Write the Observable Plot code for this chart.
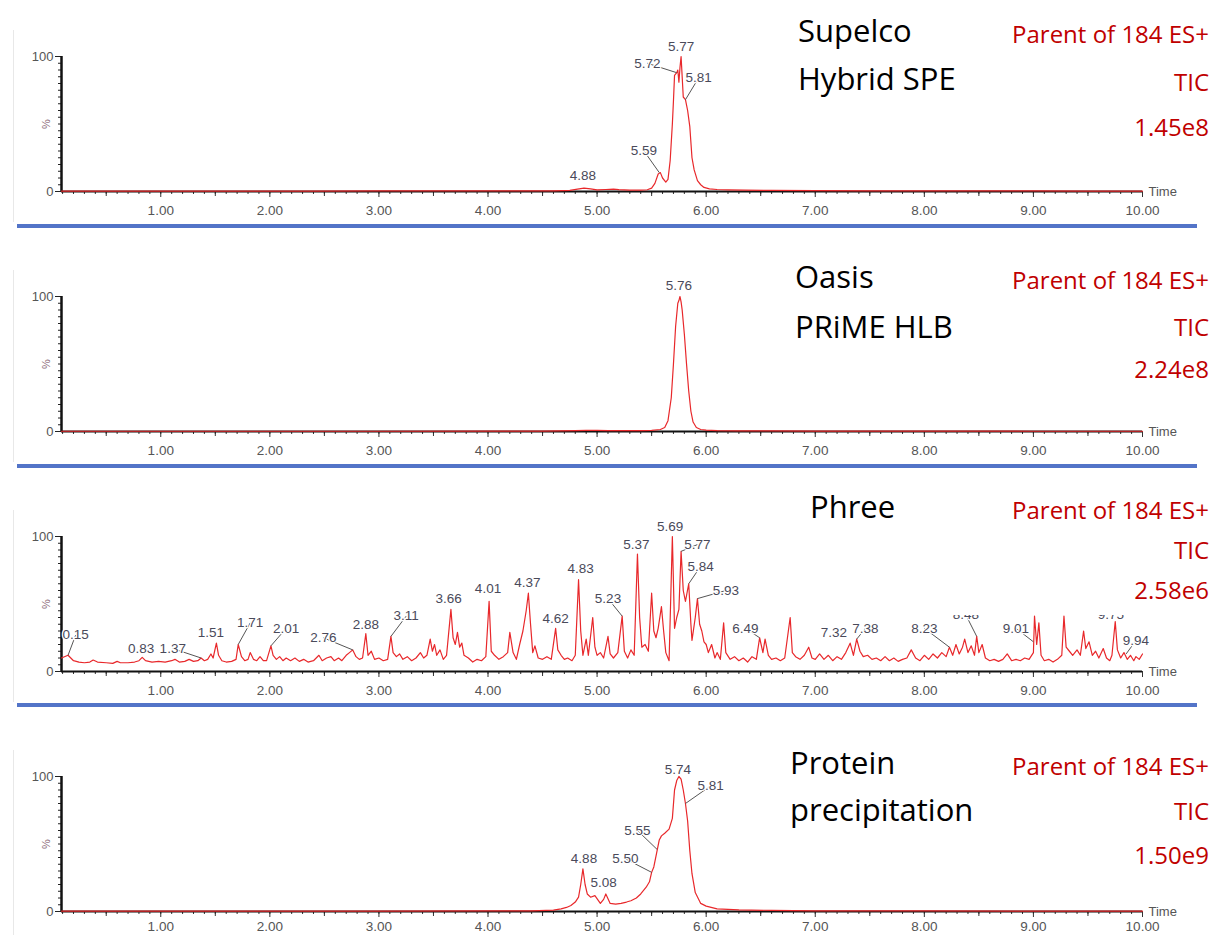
<!DOCTYPE html>
<html><head><meta charset="utf-8">
<script src="https://cdn.jsdelivr.net/npm/d3@7"></script>
<script src="https://cdn.jsdelivr.net/npm/@observablehq/plot@0.6"></script>
<style>
body{margin:0;background:#fff;overflow:hidden;}
#page{position:relative;width:1213px;height:935px;overflow:hidden;background:#fff;}
.cover{position:absolute;background:#fff;}
.name{position:absolute;font-family:"Open Sans";font-size:31px;color:#000;line-height:31px;white-space:nowrap;}
.info{position:absolute;right:4px;font-family:"Open Sans";font-size:24px;color:#c00000;line-height:24px;text-align:right;white-space:nowrap;}
.sep{position:absolute;left:17px;width:1180px;height:4px;background:#5374c8;}
.edge{position:absolute;left:13px;width:1px;background:#e8e8e8;}
</style></head><body><div id="page"></div>
<script>
// ---------- data ----------
const panelNames = [["Supelco", "Hybrid SPE"], ["Oasis", "PRiME HLB"], ["Phree"], ["Protein", "precipitation"]];
const detectorLabel = "Parent of 184 ES+";
const scanLabel = "TIC";
const intensities = ["1.45e8", "2.24e8", "2.58e6", "1.50e9"];
const xTicks = [1, 2, 3, 4, 5, 6, 7, 8, 9, 10];
const xHalfTicks = [0.5, 1.5, 2.5, 3.5, 4.5, 5.5, 6.5, 7.5, 8.5, 9.5];
const xMinorTicks = d3.range(1, 101).map(i => i / 10);
const yTicks = [0, 100];
const yMinorTicks = d3.range(0, 21).map(i => i * 5);

// [time (min), relative intensity %]
const supelcoTrace = [[0.09,0.3],[0.6,0.3],[1.2,0.3],[1.8,0.3],[2.4,0.3],[3.0,0.4],[3.6,0.4],[4.2,0.4],[4.6,0.5],[4.75,0.8],[4.82,1.8],[4.88,2.5],[4.94,2.0],[5.0,1.2],[5.08,1.5],[5.15,1.7],[5.2,1.4],[5.3,1.0],[5.4,1.0],[5.46,1.3],[5.5,2.5],[5.53,6],[5.56,13],[5.58,14],[5.6,10],[5.63,7],[5.65,9],[5.67,23],[5.69,50],[5.70,67],[5.71,86],[5.73,88],[5.74,90],[5.75,81],[5.76,92],[5.77,100],[5.78,85],[5.79,70],[5.81,68],[5.83,60],[5.85,48],[5.87,25],[5.89,16],[5.92,8],[5.95,5],[5.98,3],[6.03,2],[6.1,1.5],[6.2,1.2],[6.35,1],[6.6,0.8],[7.0,0.6],[7.5,0.5],[8.0,0.5],[8.5,0.4],[9.0,0.4],[9.5,0.3],[10.0,0.3]];
const oasisTrace = [[0.09,0.2],[1,0.2],[2,0.2],[3,0.2],[4,0.3],[4.5,0.3],[4.8,0.6],[4.9,0.8],[5.0,0.8],[5.1,0.6],[5.2,0.7],[5.3,0.6],[5.4,0.6],[5.5,0.8],[5.58,1.5],[5.62,3],[5.65,8],[5.68,25],[5.70,50],[5.72,78],[5.74,95],[5.75,97],[5.76,100],[5.77,96],[5.78,90],[5.80,72],[5.82,50],[5.84,30],[5.86,15],[5.88,7],[5.91,3],[5.95,1.5],[6.0,1],[6.1,0.7],[6.3,0.5],[6.6,0.4],[7,0.3],[8,0.3],[9,0.2],[10,0.2]];
const phreeTrace = [[0.09,10],[0.15,12],[0.2,8],[0.25,7],[0.3,6.5],[0.35,7],[0.38,8.5],[0.42,7],[0.5,6.5],[0.56,6],[0.6,7.5],[0.63,6.5],[0.7,6.5],[0.76,7],[0.8,8],[0.83,10.5],[0.86,8],[0.92,7],[0.98,7.5],[1.04,7],[1.1,8],[1.13,9],[1.17,7],[1.22,7.5],[1.26,9],[1.3,7.5],[1.34,8],[1.37,10],[1.4,8],[1.43,9],[1.46,13],[1.48,10],[1.51,21],[1.53,12],[1.56,8],[1.6,7],[1.65,7.5],[1.69,9],[1.71,20],[1.74,11],[1.77,8],[1.8,9],[1.82,14],[1.85,9],[1.88,8],[1.91,11],[1.94,8],[1.97,8],[2.01,19],[2.03,12],[2.06,9],[2.09,11],[2.12,8],[2.15,10],[2.19,8],[2.23,10],[2.27,7.5],[2.31,9],[2.35,7],[2.4,8],[2.45,12],[2.48,8],[2.52,10],[2.56,11],[2.59,8],[2.63,10],[2.66,8],[2.7,12],[2.73,14],[2.76,16],[2.79,11],[2.82,9],[2.85,10],[2.88,28],[2.9,12],[2.93,15],[2.96,9],[3.0,10],[3.04,8],[3.08,9],[3.11,26],[3.13,14],[3.16,11],[3.19,13],[3.22,9],[3.26,11],[3.3,8],[3.34,10],[3.38,14],[3.41,10],[3.44,12],[3.47,24],[3.49,15],[3.51,20],[3.53,12],[3.56,16],[3.59,9],[3.62,12],[3.66,46],[3.68,25],[3.7,20],[3.72,29],[3.74,18],[3.76,21],[3.78,12],[3.82,10],[3.86,7],[3.9,9],[3.94,8],[3.98,11],[4.01,52],[4.03,15],[4.06,12],[4.1,9],[4.14,11],[4.18,14],[4.2,29],[4.23,14],[4.26,9],[4.29,20],[4.32,30],[4.35,45],[4.37,58],[4.39,35],[4.41,14],[4.43,19],[4.46,10],[4.5,9],[4.54,11],[4.58,9],[4.62,32],[4.64,16],[4.67,12],[4.7,9],[4.73,10],[4.77,8],[4.8,12],[4.83,68],[4.85,30],[4.87,12],[4.9,24],[4.92,12],[4.96,40],[4.98,18],[5.0,12],[5.03,14],[5.06,10],[5.1,26],[5.12,13],[5.15,10],[5.19,14],[5.23,41],[5.25,15],[5.28,10],[5.31,16],[5.34,12],[5.37,87],[5.39,40],[5.41,18],[5.44,20],[5.47,15],[5.5,58],[5.52,30],[5.54,25],[5.56,32],[5.59,48],[5.61,30],[5.63,14],[5.66,8],[5.69,100],[5.71,32],[5.73,40],[5.75,46],[5.77,89],[5.79,60],[5.81,52],[5.84,65],[5.86,35],[5.87,23],[5.9,40],[5.92,54],[5.94,35],[5.96,30],[5.98,22],[6.0,20],[6.02,14],[6.05,20],[6.08,10],[6.1,14],[6.13,9],[6.16,36],[6.18,14],[6.22,9],[6.26,11],[6.3,8],[6.34,10],[6.38,7],[6.42,11],[6.46,9],[6.49,25],[6.52,14],[6.54,24],[6.57,12],[6.6,9],[6.64,10],[6.68,8],[6.72,10],[6.77,40],[6.79,14],[6.82,11],[6.86,9],[6.9,12],[6.94,18],[6.97,10],[7.0,9],[7.04,13],[7.08,9],[7.12,12],[7.16,8],[7.2,11],[7.24,9],[7.28,14],[7.32,21],[7.35,12],[7.38,24],[7.41,15],[7.44,11],[7.48,12],[7.52,9],[7.56,10],[7.6,8],[7.64,11],[7.68,8],[7.72,10],[7.76,7.5],[7.8,9],[7.84,10],[7.88,16],[7.92,10],[7.96,8],[8.0,12],[8.04,9],[8.08,13],[8.12,10],[8.16,14],[8.2,11],[8.23,18],[8.26,12],[8.29,20],[8.32,13],[8.35,18],[8.37,24],[8.4,14],[8.43,19],[8.46,12],[8.48,26],[8.5,14],[8.53,20],[8.56,10],[8.6,8],[8.64,9],[8.68,7.5],[8.72,9],[8.76,13],[8.8,8],[8.84,9],[8.88,8],[8.92,10],[8.96,9],[9.0,14],[9.01,41],[9.03,20],[9.05,36],[9.07,12],[9.1,8],[9.14,9],[9.18,7],[9.22,9],[9.26,12],[9.28,41],[9.3,18],[9.33,15],[9.36,12],[9.4,16],[9.43,12],[9.46,30],[9.48,17],[9.51,22],[9.54,12],[9.57,15],[9.6,10],[9.64,17],[9.67,10],[9.7,8],[9.72,12],[9.75,37],[9.77,16],[9.8,10],[9.83,14],[9.86,9],[9.89,12],[9.92,8],[9.94,11],[9.97,9],[10.0,13]];
const proteinTrace = [[0.09,0.3],[1,0.3],[2,0.3],[3,0.3],[4,0.4],[4.4,0.5],[4.6,1.0],[4.67,2],[4.72,3],[4.76,4.4],[4.8,7],[4.83,10.6],[4.85,20],[4.87,31.6],[4.89,20],[4.91,13],[4.94,10.6],[4.98,11.8],[5.03,6],[5.06,9],[5.08,13],[5.12,6],[5.17,5.5],[5.22,6],[5.27,7],[5.31,8],[5.36,10],[5.40,13],[5.45,18],[5.48,22],[5.50,29],[5.52,33],[5.54,41],[5.57,53],[5.59,56],[5.62,58],[5.66,61],[5.69,69],[5.71,90],[5.73,97],[5.75,100],[5.77,98],[5.79,90],[5.80,85],[5.81,80],[5.83,67],[5.85,45],[5.87,28],[5.90,14],[5.95,6],[6.0,4],[6.1,2],[6.3,1.2],[6.6,0.8],[7,0.5],[8,0.4],[9,0.3],[10,0.3]];

// peak labels: [text, peak time, peak %, label time, label %, has leader line]
const supelcoPeaks = [["4.88",4.88,2.5,4.87,12,false],["5.59",5.57,14,5.43,30,true],["5.72",5.73,88,5.46,95,true],["5.77",5.77,100,5.77,107,false],["5.81",5.81,68,5.93,84,true]];
const oasisPeaks = [["5.76",5.76,100,5.75,108,false]];
const phreePeaks = [["0.15",0.15,12,0.22,27,true],["0.83",0.83,10.5,0.82,17,false],["1.37",1.37,10,1.11,17,true],["1.51",1.51,21,1.46,29,false],["1.71",1.71,20,1.82,36,true],["2.01",2.01,19,2.15,32,true],["2.76",2.76,16,2.49,25,true],["2.88",2.88,28,2.88,35,false],["3.11",3.11,26,3.25,41,true],["3.66",3.66,46,3.64,54,false],["4.01",4.01,52,4.0,61,false],["4.37",4.37,58,4.36,66,false],["4.62",4.62,32,4.62,39,false],["4.83",4.83,68,4.85,76,false],["5.23",5.23,41,5.10,54,true],["5.37",5.37,87,5.36,94,false],["5.69",5.69,100,5.67,107,false],["5.77",5.77,89,5.92,94,true],["5.84",5.84,65,5.95,78,true],["5.93",5.92,54,6.18,60,true],["6.49",6.49,25,6.36,32,true],["7.32",7.32,21,7.17,29,false],["7.38",7.38,24,7.46,32,true],["8.23",8.23,18,8.0,32,true],["8.48",8.48,26,8.38,42,true],["9.01",9.0,22,8.84,32,true],["9.75",9.75,37,9.71,42,false],["9.94",9.85,13,9.94,23,true]];
const proteinPeaks = [["4.88",4.87,31.6,4.88,39,false],["5.08",5.08,13,5.06,21,false],["5.50",5.50,29,5.26,39,true],["5.55",5.55,46,5.37,60,true],["5.74",5.75,100,5.74,105,false],["5.81",5.81,80,6.04,93,true]];

const traces = [supelcoTrace, oasisTrace, phreeTrace, proteinTrace];
const peaks = [supelcoPeaks, oasisPeaks, phreePeaks, proteinPeaks];

// ---------- layout ----------
const panelTop = [0, 240, 480, 720];
const tickPad = [8, 8, 8, 4];
const nameX = [798, 795, 810, 790];
const nameBase = [[43, 91], [289, 339], [519], [775, 822]];
const infoBase = [[43, 91, 136], [289, 336, 378], [519, 559, 599], [775, 820, 864]];
const sepY = [224, 464, 703];

const fmt = d3.format(".2f");
const page = document.getElementById("page");

function chart(trace, pk, pad) {
  const leaders = pk.filter(d => d[5]);
  return Plot.plot({
    width: 1213, height: 240,
    marginLeft: 61, marginRight: 71, marginTop: 56, marginBottom: 49,
    x: {domain: [0.09, 10]},
    y: {domain: [0, 100]},
    style: {background: "transparent", fontFamily: "Liberation Sans, Arial, sans-serif", overflow: "visible"},
    marks: [
      Plot.axisY({ticks: yMinorTicks, tickSize: 3, tickFormat: () => "", stroke: "#222", label: null}),
      Plot.axisY({ticks: yTicks, tickSize: 6, tickPadding: 2, fontSize: 13, fill: "#555", stroke: "#222", label: null}),
      Plot.axisY({ticks: [50], tickSize: 0, tickPadding: 12, tickFormat: () => "%", tickRotate: -90, fontSize: 11, fill: "#8c6a78", label: null}),
      Plot.axisX({ticks: xMinorTicks, tickSize: 3, tickFormat: () => "", stroke: "#333", label: null}),
      Plot.axisX({ticks: xHalfTicks, tickSize: 5, tickFormat: () => "", stroke: "#333", label: null}),
      Plot.axisX({ticks: xTicks, tickSize: 6, tickPadding: pad, tickFormat: fmt, fontSize: 13.5, fill: "#555", stroke: "#333", label: null}),
      Plot.ruleY([0], {stroke: "#111", strokeWidth: 2}),
      Plot.ruleX([0.09], {stroke: "#111", strokeWidth: 2.5}),
      Plot.line(trace, {x: d => d[0], y: d => d[1], stroke: "#e8282b", strokeWidth: 1.2}),
      Plot.link(leaders, {x1: d => d[3], y1: d => d[4], x2: d => d[1], y2: d => d[2], stroke: "#555", strokeWidth: 1}),
      Plot.text(pk, {x: d => d[3], y: d => d[4], text: d => d[0], fill: "#4a4a5a", stroke: "white", strokeWidth: 2.5, paintOrder: "stroke", fontSize: 13.5}),
      Plot.text(["Time"], {x: 10, y: 0, dx: 6, dy: 0, textAnchor: "start", fill: "#555", fontSize: 13})
    ]
  });
}

traces.forEach((tr, i) => {
  const svg = chart(tr, peaks[i], tickPad[i]);
  svg.style.position = "absolute";
  svg.style.left = "0px";
  svg.style.top = panelTop[i] + "px";
  page.appendChild(svg);
  const edge = document.createElement("div");
  edge.className = "edge";
  edge.style.top = (panelTop[i] + 30) + "px";
  edge.style.height = "192px";
  page.appendChild(edge);
});

// white box behind the Phree annotation (as in the source figure)
const cover = document.createElement("div");
cover.className = "cover";
cover.style.left = "778px"; cover.style.top = "480px";
cover.style.width = "435px"; cover.style.height = "135px";
page.appendChild(cover);

sepY.forEach(y => {
  const s = document.createElement("div");
  s.className = "sep";
  s.style.top = y + "px";
  page.appendChild(s);
});

panelNames.forEach((lines, i) => {
  lines.forEach((t, j) => {
    const d = document.createElement("div");
    d.className = "name";
    d.textContent = t;
    d.style.left = nameX[i] + "px";
    d.style.top = (nameBase[i][j] - 0.888 * 31) + "px";
    page.appendChild(d);
  });
  [detectorLabel, scanLabel, intensities[i]].forEach((t, j) => {
    const d = document.createElement("div");
    d.className = "info";
    d.textContent = t;
    d.style.top = (infoBase[i][j] - 0.888 * 24) + "px";
    page.appendChild(d);
  });
});
</script></body></html>
